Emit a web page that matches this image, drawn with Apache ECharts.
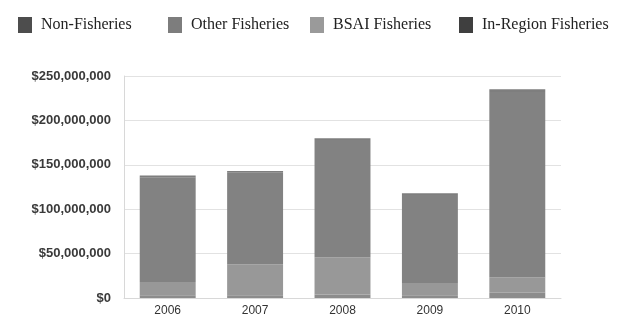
<!DOCTYPE html>
<html>
<head>
<meta charset="utf-8">
<script src="https://cdn.jsdelivr.net/npm/echarts@6/dist/echarts.min.js"></script>
<style>
  html, body { margin: 0; padding: 0; background: #fff; }
  #chart { width: 623px; height: 323px; }
</style>
</head>
<body>
<div id="chart"></div>
<script>
// Fishery-related values by year, in dollars
const years = ['2006', '2007', '2008', '2009', '2010'];
const inRegion = [3000000, 3000000, 4000000, 3000000, 6000000];
const bsai = [15000000, 35000000, 42000000, 14000000, 17000000];
const otherFisheries = [118000000, 103000000, 132000000, 99000000, 209000000];
const nonFisheries = [2000000, 2000000, 2000000, 2000000, 3000000];
const yTicks = [0, 50000000, 100000000, 150000000, 200000000, 250000000];

const seriesNames = ['Non-Fisheries', 'Other Fisheries', 'BSAI Fisheries', 'In-Region Fisheries'];
const colors = {
  'Non-Fisheries': '#7e7e7e',
  'Other Fisheries': '#828282',
  'BSAI Fisheries': '#989898',
  'In-Region Fisheries': '#8c8c8c'
};
const legendColors = {
  'Non-Fisheries': '#4d4d4d',
  'Other Fisheries': '#7d7d7d',
  'BSAI Fisheries': '#9a9a9a',
  'In-Region Fisheries': '#3f3f3f'
};
const legendLefts = [13, 163, 305, 454];

const fmt = v => '$' + v.toLocaleString('en-US');

const chart = echarts.init(document.getElementById('chart'));

const mkSeries = (name, data) => ({
  name, type: 'bar', stack: 'total', data,
  barWidth: '64%',
  itemStyle: { color: colors[name] },
  emphasis: { disabled: true }
});

chart.setOption({
  animation: false,
  backgroundColor: '#fff',
  legend: seriesNames.map((n, i) => ({
    data: [{ name: n, itemStyle: { color: legendColors[n] } }],
    left: legendLefts[i], top: 12,
    icon: 'rect', itemWidth: 14, itemHeight: 16, itemGap: 6,
    textStyle: {
      fontFamily: 'Liberation Serif', fontSize: 16, color: '#222',
      padding: [0, 0, 0, 4]
    },
    selectedMode: false
  })),
  grid: { left: 124, right: 62, top: 76, bottom: 25 },
  xAxis: {
    type: 'category', data: years,
    axisLine: { lineStyle: { color: '#d8d8d8' } },
    axisTick: { show: false },
    axisLabel: { fontFamily: 'Liberation Sans', fontSize: 12, color: '#333', margin: 7 }
  },
  yAxis: {
    type: 'value', min: yTicks[0], max: yTicks[yTicks.length - 1], interval: 50000000,
    axisLine: { show: true, lineStyle: { color: '#d8d8d8' } },
    axisTick: { show: false },
    splitLine: { lineStyle: { color: '#e2e2e2' } },
    axisLabel: {
      fontFamily: 'Liberation Sans', fontSize: 13, fontWeight: 'bold', color: '#3a3a3a', margin: 13,
      formatter: v => fmt(v)
    }
  },
  series: [
    mkSeries('In-Region Fisheries', inRegion),
    mkSeries('BSAI Fisheries', bsai),
    mkSeries('Other Fisheries', otherFisheries),
    mkSeries('Non-Fisheries', nonFisheries)
  ]
});
</script>
</body>
</html>
